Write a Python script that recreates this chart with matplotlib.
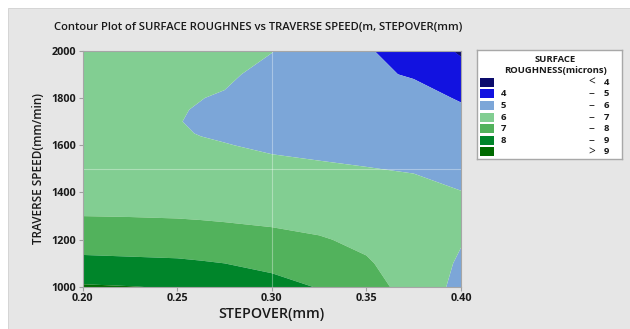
import numpy as np
import matplotlib
matplotlib.use("Agg")
import matplotlib.pyplot as plt
from matplotlib.patches import Rectangle

# ---- data (surface roughness) ----
stepover = [0.20, 0.225, 0.25, 0.2625, 0.275, 0.30, 0.325, 0.35, 0.375, 0.40]
speed = [1000, 1100, 1200, 1300, 1400, 1500, 1600, 1650, 1700, 1750, 1800, 1900, 2000]
# rows = speed, columns = stepover
roughness = [
    [9.10, 9.03, 8.93, 8.82, 8.70, 8.35, 7.95, 7.45, 6.55, 5.75],  # 1000
    [8.25, 8.20, 8.15, 8.08, 8.00, 7.75, 7.50, 7.10, 6.50, 5.90],  # 1100
    [7.55, 7.50, 7.45, 7.40, 7.35, 7.25, 7.08, 6.80, 6.45, 6.05],  # 1200
    [7.00, 6.98, 6.95, 6.92, 6.88, 6.78, 6.65, 6.50, 6.35, 6.10],  # 1300
    [6.70, 6.60, 6.50, 6.46, 6.42, 6.35, 6.30, 6.25, 6.20, 6.02],  # 1400
    [6.55, 6.40, 6.25, 6.20, 6.15, 6.13, 6.08, 6.02, 5.95, 5.75],  # 1500
    [6.45, 6.25, 6.10, 6.06, 6.02, 5.92, 5.85, 5.78, 5.70, 5.45],  # 1600
    [6.42, 6.22, 6.05, 5.98, 5.93, 5.82, 5.75, 5.64, 5.58, 5.33],  # 1650
    [6.40, 6.20, 6.02, 5.93, 5.88, 5.72, 5.65, 5.50, 5.45, 5.20],  # 1700
    [6.40, 6.22, 6.03, 5.97, 5.90, 5.70, 5.57, 5.39, 5.33, 5.08],  # 1750
    [6.40, 6.25, 6.05, 6.01, 5.95, 5.70, 5.50, 5.28, 5.20, 4.95],  # 1800
    [6.45, 6.35, 6.15, 6.12, 6.10, 5.82, 5.45, 5.10, 4.95, 4.45],  # 1900
    [6.50, 6.45, 6.30, 6.25, 6.20, 6.02, 5.55, 5.05, 4.75, 3.85],  # 2000
]
levels = [0, 4, 5, 6, 7, 8, 9, 20]
level_colors = ["#0c0c6c", "#1212e0", "#7ca6d8", "#82ce92", "#52b25c", "#00852a", "#006a00"]
legend_left = ["", "4", "5", "6", "7", "8", ""]
legend_mid = ["<", "–", "–", "–", "–", "–", ">"]
legend_right = ["4", "5", "6", "7", "8", "9", "9"]

xticks = [0.20, 0.25, 0.30, 0.35, 0.40]
yticks = [1000, 1200, 1400, 1600, 1800, 2000]

plt.rcParams['font.family'] = ['Open Sans', 'DejaVu Sans']

W, H = 630, 329
fig = plt.figure(figsize=(W / 100, H / 100), dpi=100)
fig.patch.set_facecolor("white")
fig.add_artist(Rectangle((8 / W, 0), 1, (H - 8) / H, transform=fig.transFigure,
                         facecolor="#e6e6e6", edgecolor="#d0d0d0", lw=0.6, zorder=-10))

ax = fig.add_axes([82.7 / W, (H - 287) / H, (461 - 82.7) / W, (287 - 50.7) / H])
X, Y = np.meshgrid(stepover, speed)
Z = np.array(roughness)
ax.contourf(X, Y, Z, levels=levels, colors=level_colors, antialiased=True)
ax.axvline(0.30, color="white", alpha=0.35, lw=0.8)
ax.axhline(1500, color="white", alpha=0.35, lw=0.8)
ax.set_xlim(0.20, 0.40)
ax.set_ylim(1000, 2000)
ax.set_xticks(xticks)
ax.set_xticklabels([f"{v:.2f}" for v in xticks])
ax.set_yticks(yticks)
ax.set_yticklabels([str(v) for v in yticks])
ax.tick_params(axis="both", labelsize=7.8, colors="#a0a0a0", labelcolor="#1a1a1a",
               length=3, width=0.8, pad=1.5)
for lab in ax.get_xticklabels() + ax.get_yticklabels():
    lab.set_fontweight("bold")
for s in ax.spines.values():
    s.set_color("#a6a6a6")
    s.set_linewidth(0.8)
ax.set_xlabel("STEPOVER(mm)", fontsize=10.3, fontweight="semibold", color="#1a1a1a", labelpad=2)
ax.set_ylabel("TRAVERSE SPEED(mm/min)", fontsize=8.5, fontweight="semibold", color="#1a1a1a", labelpad=5)

fig.text(258 / W, 1 - 27 / H,
         "Contour Plot of SURFACE ROUGHNES vs TRAVERSE SPEED(m, STEPOVER(mm)",
         ha="center", va="center", fontsize=8.1, fontweight="semibold", color="#1a1a1a")

# ---- legend (drawn in pixel units) ----
lx0, ly0, lx1, ly1 = 476.7, 50, 622.3, 159
lg = fig.add_axes([lx0 / W, (H - ly1) / H, (lx1 - lx0) / W, (ly1 - ly0) / H])
lg.set_xlim(0, lx1 - lx0)
lg.set_ylim(ly1 - ly0, 0)
lg.set_xticks([])
lg.set_yticks([])
lg.set_facecolor("white")
for s in lg.spines.values():
    s.set_color("#a8a8a8")
    s.set_linewidth(1.0)
fs = 6.8
lg.text(79, 9, "SURFACE", ha="center", va="center", fontsize=fs, fontweight="bold", color="#1a1a1a")
lg.text(78.5, 20.3, "ROUGHNESS(microns)", ha="center", va="center", fontsize=fs, fontweight="bold", color="#1a1a1a")
for i, col in enumerate(level_colors):
    yc = 32.3 + i * 11.6
    lg.add_patch(Rectangle((3.3, yc - 4.5), 14, 9, facecolor=col, edgecolor="none"))
    lg.text(24, yc, legend_left[i], ha="left", va="center", fontsize=fs, fontweight="bold", color="#1a1a1a")
    lg.text(115, yc, legend_mid[i], ha="center", va="center", fontsize=8.5, color="#1a1a1a")
    lg.text(130, yc, legend_right[i], ha="center", va="center", fontsize=fs, fontweight="bold", color="#1a1a1a")

fig.savefig("out.png", dpi=100)
